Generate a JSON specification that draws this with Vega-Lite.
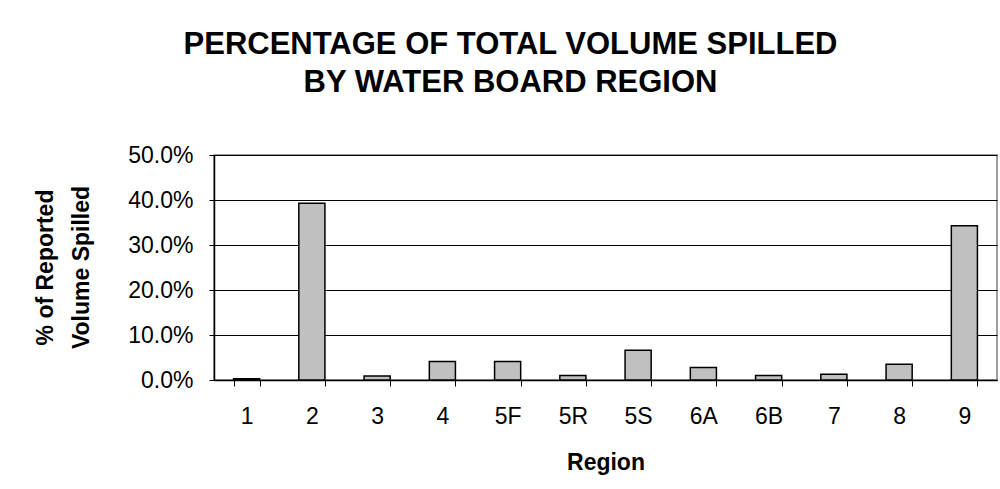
{
  "$schema": "https://vega.github.io/schema/vega-lite/v6.json",
  "width": 783,
  "height": 225,
  "autosize": "none",
  "padding": {"left": 214, "top": 155, "right": 3, "bottom": 109},
  "background": "white",
  "title": {
    "text": ["PERCENTAGE OF TOTAL VOLUME SPILLED", "BY WATER BOARD REGION"],
    "font": "Liberation Sans",
    "fontSize": 31,
    "fontWeight": "bold",
    "color": "black",
    "anchor": "middle",
    "lineHeight": 38,
    "dx": -95,
    "offset": 45
  },
  "data": {
    "values": [
      {"region": "1", "pct": 0.003},
      {"region": "2", "pct": 0.393},
      {"region": "3", "pct": 0.009},
      {"region": "4", "pct": 0.041},
      {"region": "5F", "pct": 0.041},
      {"region": "5R", "pct": 0.010},
      {"region": "5S", "pct": 0.066},
      {"region": "6A", "pct": 0.028},
      {"region": "6B", "pct": 0.010},
      {"region": "7", "pct": 0.013},
      {"region": "8", "pct": 0.035},
      {"region": "9", "pct": 0.343}
    ]
  },
  "mark": {"type": "bar", "fill": "#c0c0c0", "stroke": "black", "strokeWidth": 1.5},
  "encoding": {
    "x": {
      "field": "region",
      "type": "nominal",
      "sort": null,
      "scale": {"paddingInner": 0.6, "paddingOuter": 0.3},
      "axis": {
        "title": "Region",
        "labelAngle": 0,
        "tickBand": "extent",
        "tickSize": 6,
        "tickColor": "black",
        "domainColor": "black",
        "domainWidth": 1.5,
        "labelFont": "Liberation Sans",
        "labelFontSize": 23,
        "labelColor": "black",
        "labelPadding": 19,
        "titleFont": "Liberation Sans",
        "titleFontSize": 23,
        "titleFontWeight": "bold",
        "titleColor": "black",
        "titleBaseline": "alphabetic",
        "titleY": 89,
        "grid": false
      }
    },
    "y": {
      "field": "pct",
      "type": "quantitative",
      "scale": {"domain": [0, 0.5]},
      "axis": {
        "title": ["% of Reported", "Volume Spilled"],
        "format": ".1%",
        "values": [0, 0.1, 0.2, 0.3, 0.4, 0.5],
        "tickSize": 5,
        "tickColor": "black",
        "domainColor": "black",
        "domainWidth": 1.5,
        "labelFont": "Liberation Sans",
        "labelFontSize": 23,
        "labelColor": "black",
        "labelPadding": 16,
        "titleFont": "Liberation Sans",
        "titleFontSize": 23,
        "titleFontWeight": "bold",
        "titleColor": "black",
        "titleAngle": -90,
        "titleAlign": "center",
        "titleBaseline": "alphabetic",
        "titleX": -162,
        "titleY": 112,
        "titleLineHeight": 36,
        "grid": true,
        "gridColor": "black",
        "gridWidth": 1,
        "gridOpacity": 1
      }
    }
  },
  "config": {
    "view": {"stroke": "#808080", "strokeWidth": 1.5}
  }
}
